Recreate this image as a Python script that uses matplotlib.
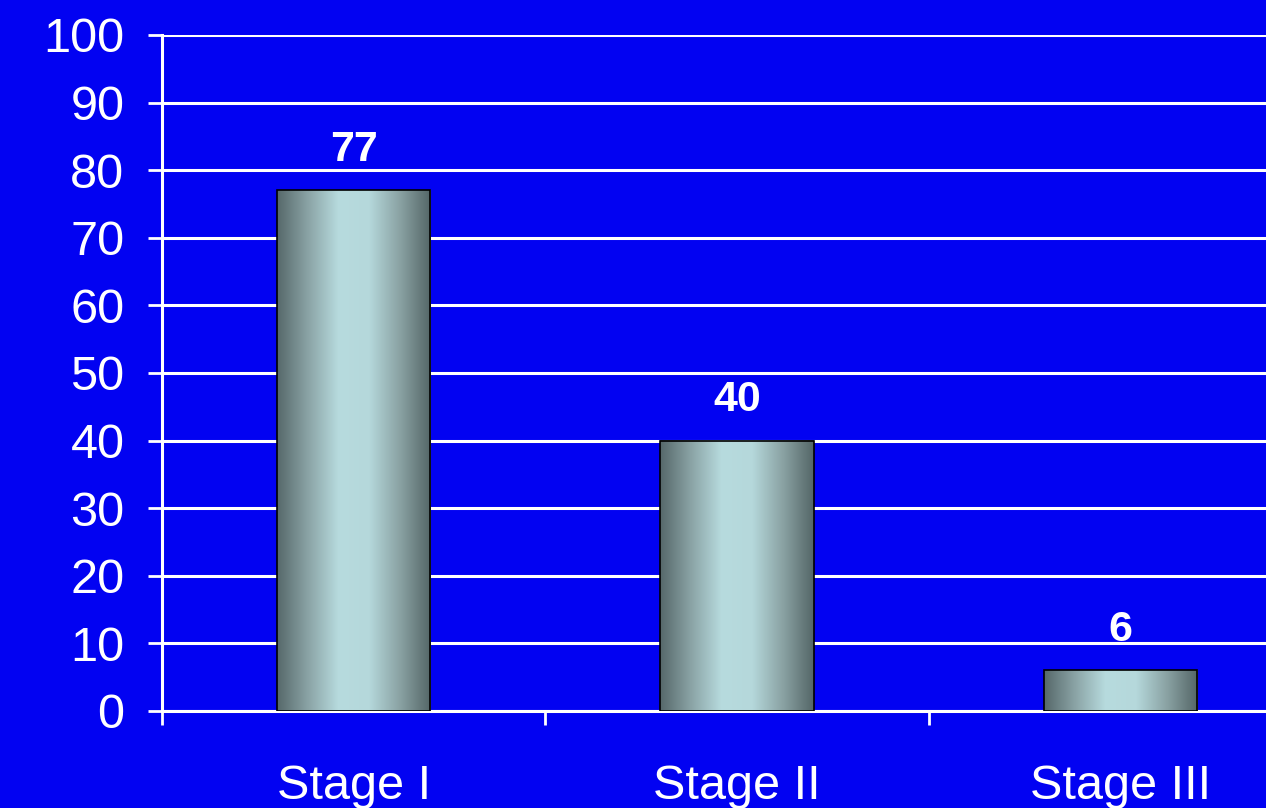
import matplotlib
matplotlib.use("Agg")
import matplotlib.pyplot as plt
import numpy as np
from matplotlib.colors import LinearSegmentedColormap

categories = ["Stage I", "Stage II", "Stage III"]
values = [77, 40, 6]
yticks = [0, 10, 20, 30, 40, 50, 60, 70, 80, 90, 100]

BG = "#0202F2"
plt.rcParams['font.family'] = ['Liberation Sans', 'DejaVu Sans']

fig = plt.figure(figsize=(12.66, 8.08), dpi=100)
fig.patch.set_facecolor(BG)
ax = fig.add_axes([162/1266, 97/808, 1150/1266, 676/808])
ax.set_facecolor(BG)

x = np.arange(len(categories))
width = 0.4
bars = ax.bar(x, values, width=width, color='none', edgecolor='black', linewidth=1.2, zorder=4)

cmap = LinearSegmentedColormap.from_list("cyl", ["#56686a", "#8aa3a5", "#b7dbde", "#b5d8db", "#8aa2a3", "#546667"])
grad = np.linspace(0, 1, 256).reshape(1, -1)
for b in bars:
    x0, y0 = b.get_x(), b.get_y()
    w, h = b.get_width(), b.get_height()
    ax.imshow(grad, cmap=cmap, aspect='auto', extent=[x0, x0 + w, y0, y0 + h], zorder=3, interpolation='bicubic')

for xi, v in zip(x, values):
    ax.annotate(str(v), (xi, v), xytext=(0, 15), textcoords='offset points',
                ha='center', va='bottom', color='white', fontsize=31, fontweight='bold', zorder=5)

ax.set_xlim(-0.5, len(categories) - 0.5)
ax.set_ylim(0, 100)
ax.set_yticks(yticks)
ax.set_yticklabels([str(t) for t in yticks])
ax.yaxis.grid(True, color='white', linewidth=2.2, zorder=1)
ax.set_axisbelow(True)

ax.set_xticks(x)
ax.set_xticklabels(categories)
ax.set_xticks(np.arange(len(categories) + 1) - 0.5, minor=True)
ax.tick_params(axis='x', which='major', length=0, pad=38, labelsize=35, colors='white')
ax.tick_params(axis='x', which='minor', length=10, width=2, direction='out', color='white')
ax.tick_params(axis='y', length=10, width=2, direction='out', color='white', labelcolor='white', labelsize=35, pad=17)

for s in ['top', 'right']:
    ax.spines[s].set_visible(False)
for s in ['left', 'bottom']:
    ax.spines[s].set_color('white')
    ax.spines[s].set_linewidth(2.2)

fig.savefig("out.png", dpi=100, facecolor=BG)
